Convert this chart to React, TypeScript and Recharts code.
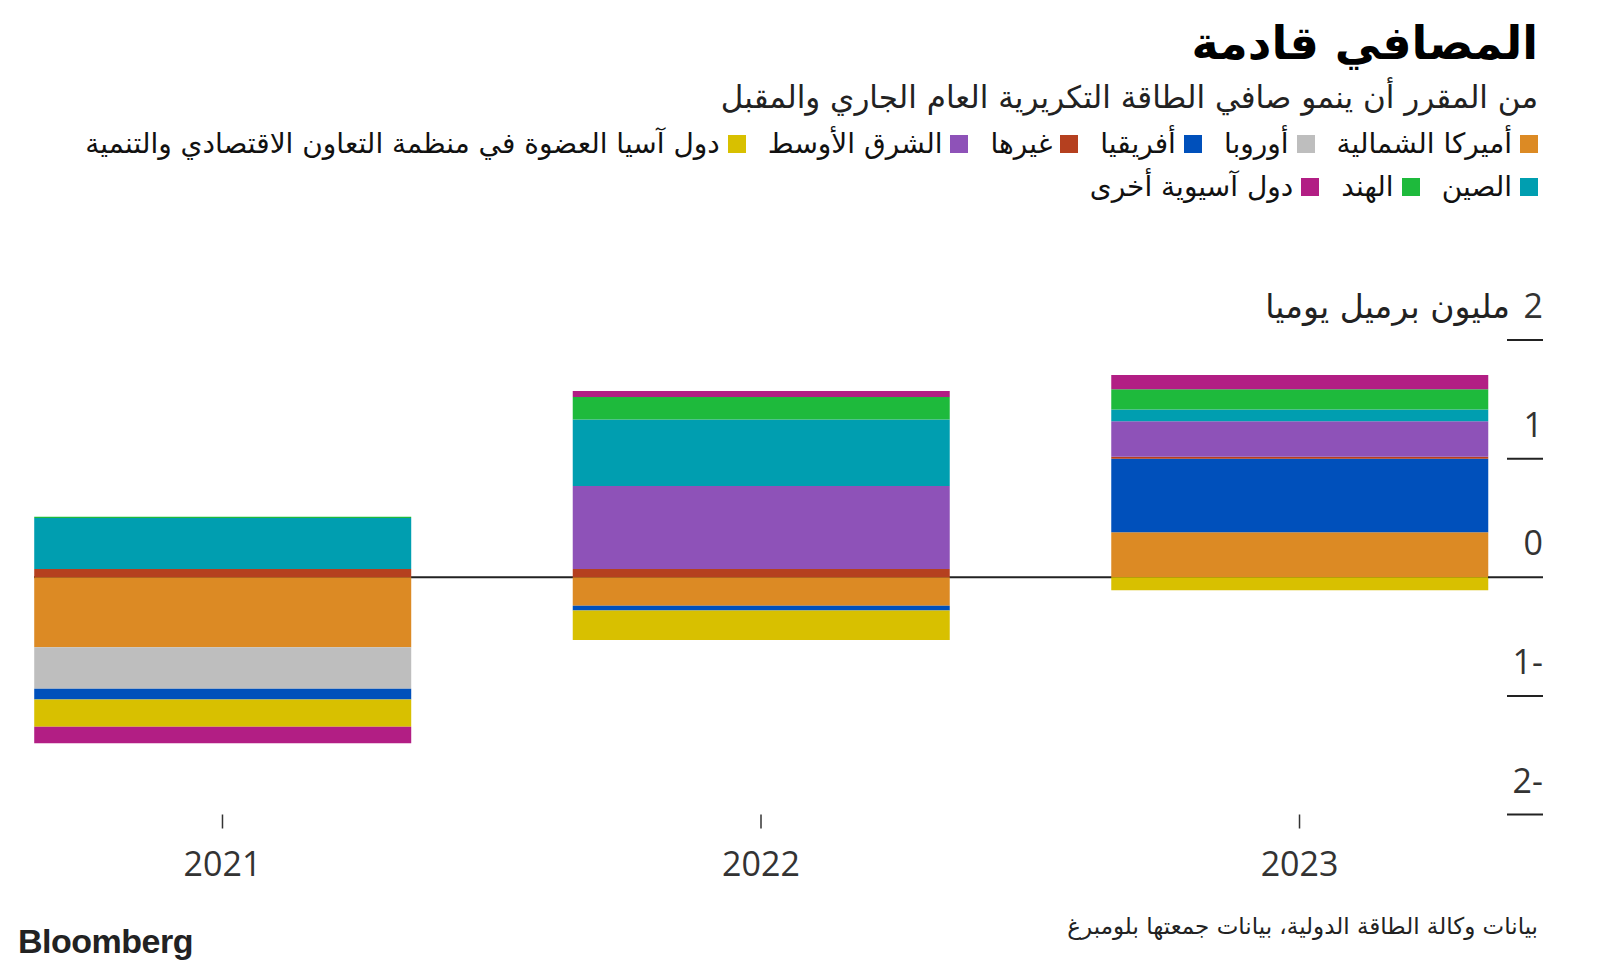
import { BarChart, Bar, XAxis, YAxis, CartesianGrid } from 'recharts';

// السنوات
const years = [2021, 2022, 2023];

// صافي نمو الطاقة التكريرية بالمليون برميل يوميا لكل منطقة
const northAmerica = [-0.59, -0.24, 0.38];
const europe = [-0.35, 0, 0];
const africa = [-0.09, -0.04, 0.62];
const others = [0.07, 0.07, 0.015];
const middleEast = [0, 0.7, 0.3];
const oecdAsia = [-0.23, -0.25, -0.11];
const china = [0.43, 0.56, 0.1];
const india = [0.01, 0.19, 0.17];
const otherAsia = [-0.14, 0.05, 0.12];

const yTicks = [-2, -1, 0, 1, 2];

const SERIES = [
  { key: 'na', name: 'أميركا الشمالية', color: '#dc8a24', values: northAmerica },
  { key: 'eu', name: 'أوروبا', color: '#bebebe', values: europe },
  { key: 'af', name: 'أفريقيا', color: '#0050bb', values: africa },
  { key: 'ot', name: 'غيرها', color: '#b5401f', values: others },
  { key: 'me', name: 'الشرق الأوسط', color: '#8e52b8', values: middleEast },
  { key: 'oa', name: 'دول آسيا العضوة في منظمة التعاون الاقتصادي والتنمية', color: '#d8c000', values: oecdAsia },
  { key: 'cn', name: 'الصين', color: '#009eb0', values: china },
  { key: 'in', name: 'الهند', color: '#1eba3c', values: india },
  { key: 'xa', name: 'دول آسيوية أخرى', color: '#b21e84', values: otherAsia },
];

const data = years.map((year, i) => {
  const row: Record<string, number> = { year };
  SERIES.forEach(s => {
    row[s.key] = s.values[i];
  });
  return row;
});

const ARABIC = "'DejaVu Sans', sans-serif";
const NUM = "'Open Sans', 'Noto Sans', sans-serif";

const XTick = ({ x, y, payload }: any) => (
  <g>
    <line x1={x} x2={x} y1={y} y2={y + 14} stroke="#333" strokeWidth={1.5} />
    <text x={x} y={y + 61} textAnchor="middle" fontSize={34} fontFamily={NUM} fill="#333">
      {payload.value}
    </text>
  </g>
);

const YTick = ({ x, y, payload }: any) => {
  const v = payload.value;
  const label = v < 0 ? `${-v}-` : `${v}`;
  return (
    <g>
      <line x1={v === 0 ? x : x + 19} x2={x + 55} y1={y} y2={y} stroke="#222" strokeWidth={2} />
      <text x={x + 55} y={y - 22} textAnchor="end" fontSize={34} fontFamily={NUM} fill="#333">
        {label}
      </text>
      {v === 2 && (
        <text x={x + 22} y={y - 22} textAnchor="end" fontSize={33} fontFamily={ARABIC} fill="#222">
          مليون برميل يوميا
        </text>
      )}
    </g>
  );
};

const LegendRow = ({ items, top }: { items: typeof SERIES; top: number }) => (
  <div
    style={{
      position: 'absolute',
      right: 62,
      top,
      display: 'flex',
      direction: 'rtl',
      alignItems: 'center',
      gap: 22,
      fontFamily: ARABIC,
      fontSize: 28,
      lineHeight: 1,
      color: '#111',
      whiteSpace: 'nowrap',
    }}
  >
    {items.map(s => (
      <div key={s.key} style={{ display: 'flex', alignItems: 'center', gap: 8 }}>
        <span style={{ width: 18, height: 18, background: s.color, display: 'inline-block' }} />
        <span>{s.name}</span>
      </div>
    ))}
  </div>
);

export default function App() {
  return (
    <div
      style={{
        position: 'absolute',
        left: 0,
        top: 0,
        width: 1600,
        height: 974,
        background: '#fff',
        overflow: 'hidden',
      }}
    >
      <div
        style={{
          position: 'absolute',
          right: 62,
          top: 20,
          fontFamily: ARABIC,
          fontWeight: 'bold',
          fontSize: 46,
          lineHeight: 1,
          color: '#000',
          direction: 'rtl',
        }}
      >
        المصافي قادمة
      </div>
      <div
        style={{
          position: 'absolute',
          right: 62,
          top: 82,
          fontFamily: ARABIC,
          fontSize: 31,
          lineHeight: 1,
          color: '#222',
          direction: 'rtl',
        }}
      >
        من المقرر أن ينمو صافي الطاقة التكريرية العام الجاري والمقبل
      </div>

      <LegendRow items={SERIES.slice(0, 6)} top={130} />
      <LegendRow items={SERIES.slice(6)} top={173} />

      <div style={{ position: 'absolute', left: 0, top: 0 }}>
        <BarChart
          width={1600}
          height={974}
          data={data}
          stackOffset="sign"
          margin={{ top: 340, right: 0, bottom: 99.5, left: 34 }}
        >
          <CartesianGrid vertical={false} horizontalValues={[0]} stroke="#222" strokeWidth={2} />
          <XAxis
            dataKey="year"
            type="number"
            domain={[2020.65, 2023.35]}
            ticks={years}
            axisLine={false}
            tickLine={false}
            tickSize={0}
            tickMargin={0}
            height={60}
            tick={<XTick />}
          />
          <YAxis
            orientation="right"
            type="number"
            domain={[-2, 2]}
            ticks={yTicks}
            axisLine={false}
            tickLine={false}
            tickSize={0}
            tickMargin={0}
            width={112}
            tick={<YTick />}
          />
          {SERIES.map(s => (
            <Bar
              key={s.key}
              dataKey={s.key}
              name={s.name}
              stackId="a"
              fill={s.color}
              barSize={377}
              isAnimationActive={false}
            />
          ))}
        </BarChart>
      </div>

      <div
        style={{
          position: 'absolute',
          right: 62,
          top: 915,
          fontFamily: ARABIC,
          fontSize: 23,
          lineHeight: 1,
          color: '#222',
          direction: 'rtl',
        }}
      >
        بيانات وكالة الطاقة الدولية، بيانات جمعتها بلومبرغ
      </div>
      <div
        style={{
          position: 'absolute',
          left: 18,
          top: 924,
          fontFamily: "'Liberation Sans', Arial, sans-serif",
          fontWeight: 'bold',
          fontSize: 34,
          letterSpacing: -0.5,
          lineHeight: 1,
          color: '#222',
        }}
      >
        Bloomberg
      </div>
    </div>
  );
}
